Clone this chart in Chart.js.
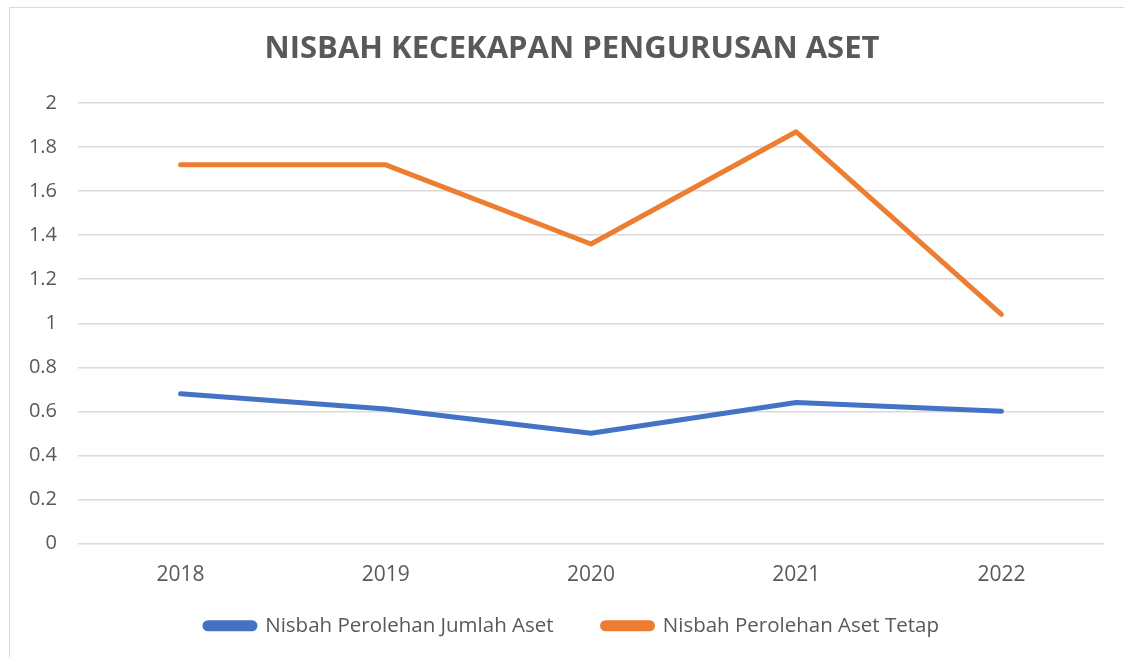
<!DOCTYPE html>
<html>
<head>
<meta charset="utf-8">
<script src="https://cdn.jsdelivr.net/npm/chart.js@4.4.0/dist/chart.umd.min.js"></script>
<style>
  body { margin:0; background:#fff; }
  #box { position:absolute; left:9px; top:7px; width:1115px; height:650px; border-left:1px solid #d9d9d9; border-top:1px solid #d9d9d9; }
  #c { display:block; }
</style>
</head>
<body>
<div id="box"><canvas id="c" width="1114" height="649"></canvas></div>
<script>
// data
const tahun = ['2018', '2019', '2020', '2021', '2022'];
const jumlahAset = [0.68, 0.61, 0.50, 0.64, 0.60];
const asetTetap = [1.72, 1.72, 1.36, 1.87, 1.04];
const yTicks = [0, 0.2, 0.4, 0.6, 0.8, 1, 1.2, 1.4, 1.6, 1.8, 2];

const FONT = '"Open Sans", "Noto Sans", sans-serif';
const GREY = '#595959';

new Chart(document.getElementById('c').getContext('2d'), {
  type: 'line',
  data: {
    labels: tahun,
    datasets: [
      { label: 'Nisbah Perolehan Jumlah Aset', data: jumlahAset, borderColor: '#4472C4', backgroundColor: '#4472C4', borderWidth: 5, borderCapStyle: 'round', borderJoinStyle: 'round', pointRadius: 0, tension: 0 },
      { label: 'Nisbah Perolehan Aset Tetap', data: asetTetap, borderColor: '#ED7D31', backgroundColor: '#ED7D31', borderWidth: 5, borderCapStyle: 'round', borderJoinStyle: 'round', pointRadius: 0, tension: 0 }
    ]
  },
  options: {
    responsive: false,
    animation: false,
    layout: { padding: { left: 10, right: 0, top: 0, bottom: 11 } },
    plugins: {
      title: { display: true, text: 'NISBAH KECEKAPAN PENGURUSAN ASET', color: GREY, font: { family: FONT, size: 31, weight: 'bold' }, padding: { top: 23, bottom: 35 } },
      legend: {
        position: 'bottom',
        labels: {
          color: GREY, font: { family: FONT, size: 20.5 }, boxWidth: 50, boxHeight: 6, useBorderRadius: true, borderRadius: 3, padding: 17,
          generateLabels: chart => {
            const items = Chart.defaults.plugins.legend.labels.generateLabels(chart);
            items[0].text += '      ';   // wider gap between the two entries
            return items;
          }
        }
      },
      tooltip: { enabled: false }
    },
    scales: {
      x: {
        offset: true,
        grid: { display: false },
        border: { display: false },
        ticks: { color: GREY, font: { family: FONT, size: 21 }, padding: 11 }
      },
      y: {
        min: 0, max: 2,
        afterBuildTicks: s => { s.ticks = yTicks.map(v => ({ value: v })); },
        afterFit: s => { s.width = 58; },
        grid: { color: '#d9d9d9', lineWidth: 1.5, drawTicks: false },
        border: { display: false },
        ticks: { color: GREY, font: { family: FONT, size: 20 }, padding: 21, callback: v => String(v) }
      },
      // empty right-hand spacer so the plot stops short of the right edge
      yKanan: {
        position: 'right',
        min: 0, max: 2,
        afterFit: s => { s.width = 20; },
        grid: { display: false },
        border: { display: false },
        ticks: { display: false }
      }
    }
  }
});
</script>
</body>
</html>
